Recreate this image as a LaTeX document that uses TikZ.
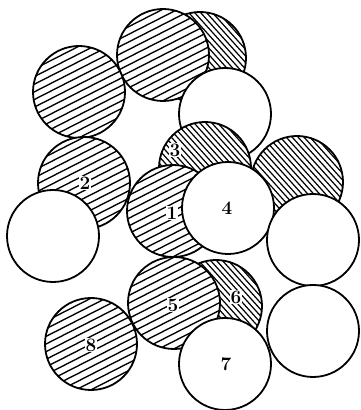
\documentclass[tikz,border=0pt]{standalone}
\usetikzlibrary{calc}
\tikzset{
  disk/.style={circle, draw, line width=1.8pt, minimum size=92pt, inner sep=0pt, fill=white},
  hatchlines/.style n args={3}{path picture={
    \foreach \k in {-14,...,14}{
      \draw[line width=#3]
        ($(path picture bounding box.center)+({-70*cos(#1)-\k*#2*sin(#1)},{-70*sin(#1)+\k*#2*cos(#1)})$)
        -- ($(path picture bounding box.center)+({70*cos(#1)-\k*#2*sin(#1)},{70*sin(#1)+\k*#2*cos(#1)})$);
    }}},
  medium/.style={disk, hatchlines={27}{6.8}{1.35pt}},
  dark/.style={disk, hatchlines={-48}{4.4}{1.2pt}},
  plain/.style={disk},
  num/.style={fill=white, inner sep=0.6pt, font=\fontsize{19}{19}\selectfont\bfseries}
}
\begin{document}
\begin{tikzpicture}[x=1pt,y=1pt]
\useasboundingbox (0,0) rectangle (360,410);
\node[dark]   (darkTR)  at (200,352) {};
\node[medium] (bigTop)  at (163,355) {};
\node[medium] (topLeft) at (79,318) {};
\node[plain]  (whiteUp) at (225,296) {};
\node[dark]   (c3)      at (205,242) {};
\node[dark]   (darkR)   at (297,228) {};
\node[medium] (c1)      at (173,199) {};
\node[plain]  (c4)      at (228,202) {};
\node[plain]  (whiteR)  at (313,170) {};
\node[medium] (c2)      at (84,227) {};
\node[plain]  (whiteL)  at (53,174) {};
\node[dark]   (c6)      at (216,104) {};
\node[medium] (c5)      at (174,107) {};
\node[plain]  (c7)      at (225,46) {};
\node[plain]  (whiteLR) at (313,79) {};
\node[medium] (c8)      at (91,66) {};
\node[num] (l1) at (172,197) {1};
\node[num] (l2) at (85,227) {2};
\node[num] (l3) at (175,260) {3};
\node[num] (l4) at (227,202) {4};
\node[num] (l5) at (173,105) {5};
\node[num] (l6) at (236,113) {6};
\node[num] (l7) at (226,46) {7};
\node[num] (l8) at (91,65) {8};
\end{tikzpicture}
\end{document}
